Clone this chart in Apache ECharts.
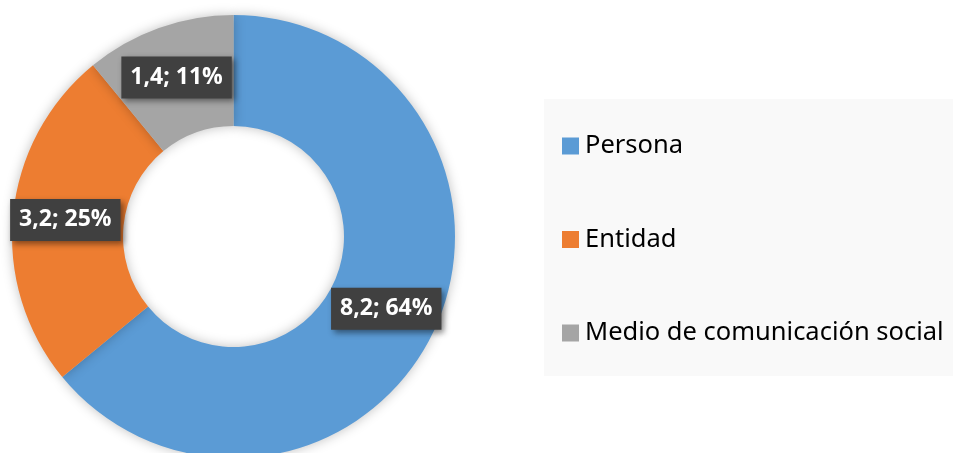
<!DOCTYPE html>
<html>
<head>
<meta charset="utf-8">
<script src="https://cdn.jsdelivr.net/npm/echarts@6/dist/echarts.min.js"></script>
<style>
  html, body { margin: 0; padding: 0; background: #fff; }
  #chart { width: 953px; height: 453px; }
</style>
</head>
<body>
<div id="chart"></div>
<script>
var categories = ['Persona', 'Entidad', 'Medio de comunicación social'];
var values = [8.2, 3.2, 1.4];
var colors = ['#5B9BD5', '#ED7D31', '#A5A5A5'];

var myChart = echarts.init(document.getElementById('chart'));

var pieData = categories.map(function (name, i) {
  return { name: name, value: values[i], itemStyle: { color: colors[i] } };
});

var option = {
  animation: false,
  graphic: [
    {
      type: 'rect',
      shape: { x: 544, y: 99, width: 409, height: 277 },
      style: { fill: '#f9f9f9' },
      z: -1
    }
  ],
  legend: {
    orient: 'vertical',
    left: 562,
    top: 133,
    padding: 0,
    itemWidth: 17,
    itemHeight: 17,
    itemGap: 67.5,
    icon: 'rect',
    textStyle: {
      fontFamily: 'Noto Sans',
      fontSize: 25.5,
      lineHeight: 24,
      color: '#000',
      padding: [0, 0, 0, 1]
    },
    data: categories
  },
  series: [
    {
      type: 'pie',
      center: [233.5, 236.5],
      radius: [110.5, 221.5],
      startAngle: 90,
      clockwise: true,
      avoidLabelOverlap: false,
      itemStyle: {
        shadowBlur: 12,
        shadowColor: 'rgba(0,0,0,0.25)'
      },
      label: {
        show: true,
        position: 'inside',
        fontFamily: 'Open Sans',
        fontWeight: 'bold',
        fontSize: 23,
        lineHeight: 25,
        color: '#fff',
        backgroundColor: '#404040',
        padding: [9, 9, 8, 9],
        shadowColor: 'rgba(0,0,0,0.45)',
        shadowBlur: 6,
        shadowOffsetX: 3,
        shadowOffsetY: 3,
        formatter: function (p) {
          var v = String(p.value).replace('.', ',');
          return v + '; ' + Math.round(p.percent) + '%';
        }
      },
      labelLine: { show: false },
      emphasis: { disabled: true },
      data: pieData
    }
  ]
};

myChart.setOption(option);
</script>
</body>
</html>
